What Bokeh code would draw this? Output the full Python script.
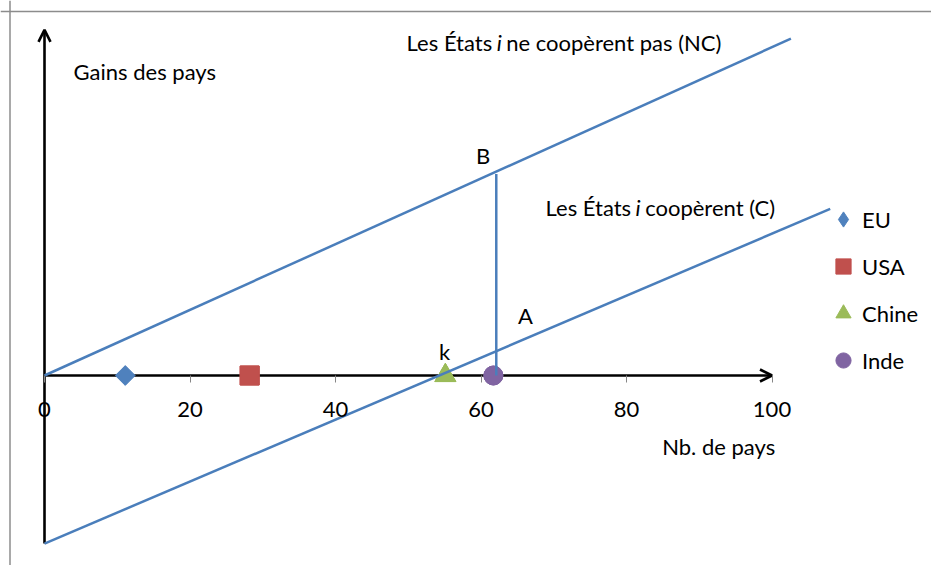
from bokeh.plotting import figure
from bokeh.models import (Range1d, Arrow, OpenHead, Label, Span, Legend, LegendItem,
                          FixedTicker)
from bokeh.embed import file_html
from bokeh.resources import INLINE

# ---------------- data ----------------
ticks = [0, 20, 40, 60, 80, 100]
tick_labels = ["0", "20", "40", "60", "80", "100"]

nc_x = [0, 102.6]          # Les États i ne coopèrent pas (NC)
nc_y = [0, 46.3]
c_x = [0, 108.0]           # Les États i coopèrent (C)
c_y = [-23.1, 22.9]
ab_x = [62.1, 62.1]        # vertical segment A-B
ab_y = [0, 27.7]

countries = ["EU", "USA", "Chine", "Inde"]
country_x = [11.1, 28.2, 55.1, 61.7]
country_y = [0, 0, 0, 0]

xaxis_end = 100.0
yaxis_start = -23.1
yaxis_end = 47.5

# ---------------- style ----------------
FONT = "Lato"
FS = "22px"
BLUE = "#4A7EBB"
colors = ["#4F81BD", "#C0504D", "#9BBB59", "#8064A2"]
legend_markers = ["diamond", "square", "triangle", "circle"]
plot_markers = ["square", "square", "triangle", "circle"]
plot_angles = [0.785398, 0.0, 0.0, 0.0]
plot_sizes = [14, 19, 21, 19]
legend_sizes = [16, 19, 21, 19]

W, H = 931, 565
sx = 7.275
x0_px, y0_px = 44, 375
x_start = -x0_px / sx
y_end = y0_px / sx

p = figure(width=W, height=H, output_backend="svg", toolbar_location=None,
           x_range=Range1d(x_start, x_start + W / sx),
           y_range=Range1d(y_end - H / sx, y_end),
           min_border=0, min_border_left=0, min_border_right=0,
           min_border_top=0, min_border_bottom=0)
p.outline_line_color = None
p.grid.visible = False
p.yaxis.visible = False
p.background_fill_color = "white"
p.border_fill_color = "white"

# x axis placed at y = 0
xa = p.xaxis[0]
xa.fixed_location = 0
xa.ticker = FixedTicker(ticks=ticks)
xa.major_label_overrides = {t: l for t, l in zip(ticks, tick_labels)}
xa.axis_line_color = None
xa.minor_tick_line_color = None
xa.major_tick_in = 0
xa.major_tick_out = 7
xa.major_tick_line_color = "#868686"
xa.major_tick_line_width = 1
xa.major_label_standoff = 19
xa.major_label_text_font = FONT
xa.major_label_text_font_size = FS
xa.major_label_text_color = "black"

# chart border (left and top edges)
p.add_layout(Span(location=x_start + 9.5 / sx, dimension="height",
                  line_color="#8C8C8C", line_width=1.5))
p.add_layout(Span(location=y_end - 11 / sx, dimension="width",
                  line_color="#8C8C8C", line_width=1.5))

# axes arrows
p.add_layout(Arrow(x_start=0, y_start=0, x_end=xaxis_end, y_end=0,
                   line_color="black", line_width=2.6, level="underlay",
                   end=OpenHead(size=12, line_color="black", line_width=2.6)))
p.add_layout(Arrow(x_start=0, y_start=yaxis_start, x_end=0, y_end=yaxis_end,
                   line_color="black", line_width=2.6, level="underlay",
                   end=OpenHead(size=12, line_color="black", line_width=2.6)))

# country markers (legend renderers first, display markers drawn on top)
items = []
for name, xv, yv, c, lm, ls in zip(countries, country_x, country_y, colors,
                                   legend_markers, legend_sizes):
    r = p.scatter([xv], [yv], marker=lm, size=ls, fill_color=c, line_color=c, line_width=1)
    items.append(LegendItem(label=name, renderers=[r]))
for xv, yv, c, m, a, s in zip(country_x, country_y, colors, plot_markers,
                              plot_angles, plot_sizes):
    p.scatter([xv], [yv], marker=m, angle=a, size=s, fill_color=c, line_color=c, line_width=1)

# lines
p.line(nc_x, nc_y, line_color=BLUE, line_width=2.5)
p.line(c_x, c_y, line_color=BLUE, line_width=2.5)
p.line(ab_x, ab_y, line_color=BLUE, line_width=2.5)

GW, GH = 38, 42
leg_h = 4 * GH + 3 * 5
legend = Legend(items=items, location=(843 - GW // 2, H - 198 - leg_h), orientation="vertical",
                glyph_width=GW, glyph_height=GH, spacing=5, padding=0, margin=0,
                label_standoff=0, border_line_color=None, background_fill_alpha=0,
                label_text_font=FONT, label_text_font_size=FS, label_text_color="black")
p.add_layout(legend)

def lab(x, y, text, align="left", style="normal", xoff=0):
    p.add_layout(Label(x=x, y=y, text=text, text_align=align, text_baseline="middle",
                       text_font=FONT, text_font_size=FS, text_font_style=style,
                       text_color="black", x_offset=xoff))

lab(4.0, 41.8, "Gains des pays")
lab(62.5, 45.8, "Les États", align="right", xoff=-7)
lab(62.5, 45.8, "i", align="center", style="italic")
lab(62.5, 45.8, "ne coopèrent pas (NC)", align="left", xoff=7)
lab(81.6, 23.1, "Les États", align="right", xoff=-7)
lab(81.6, 23.1, "i", align="center", style="italic")
lab(81.6, 23.1, "coopèrent (C)", align="left", xoff=7)
lab(60.3, 30.2, "B", align="center")
lab(66.1, 8.2, "A", align="center")
lab(55.0, 3.3, "k", align="center")
lab(84.9, -9.8, "Nb. de pays")

open("out.html", "w").write(file_html(p, INLINE))
